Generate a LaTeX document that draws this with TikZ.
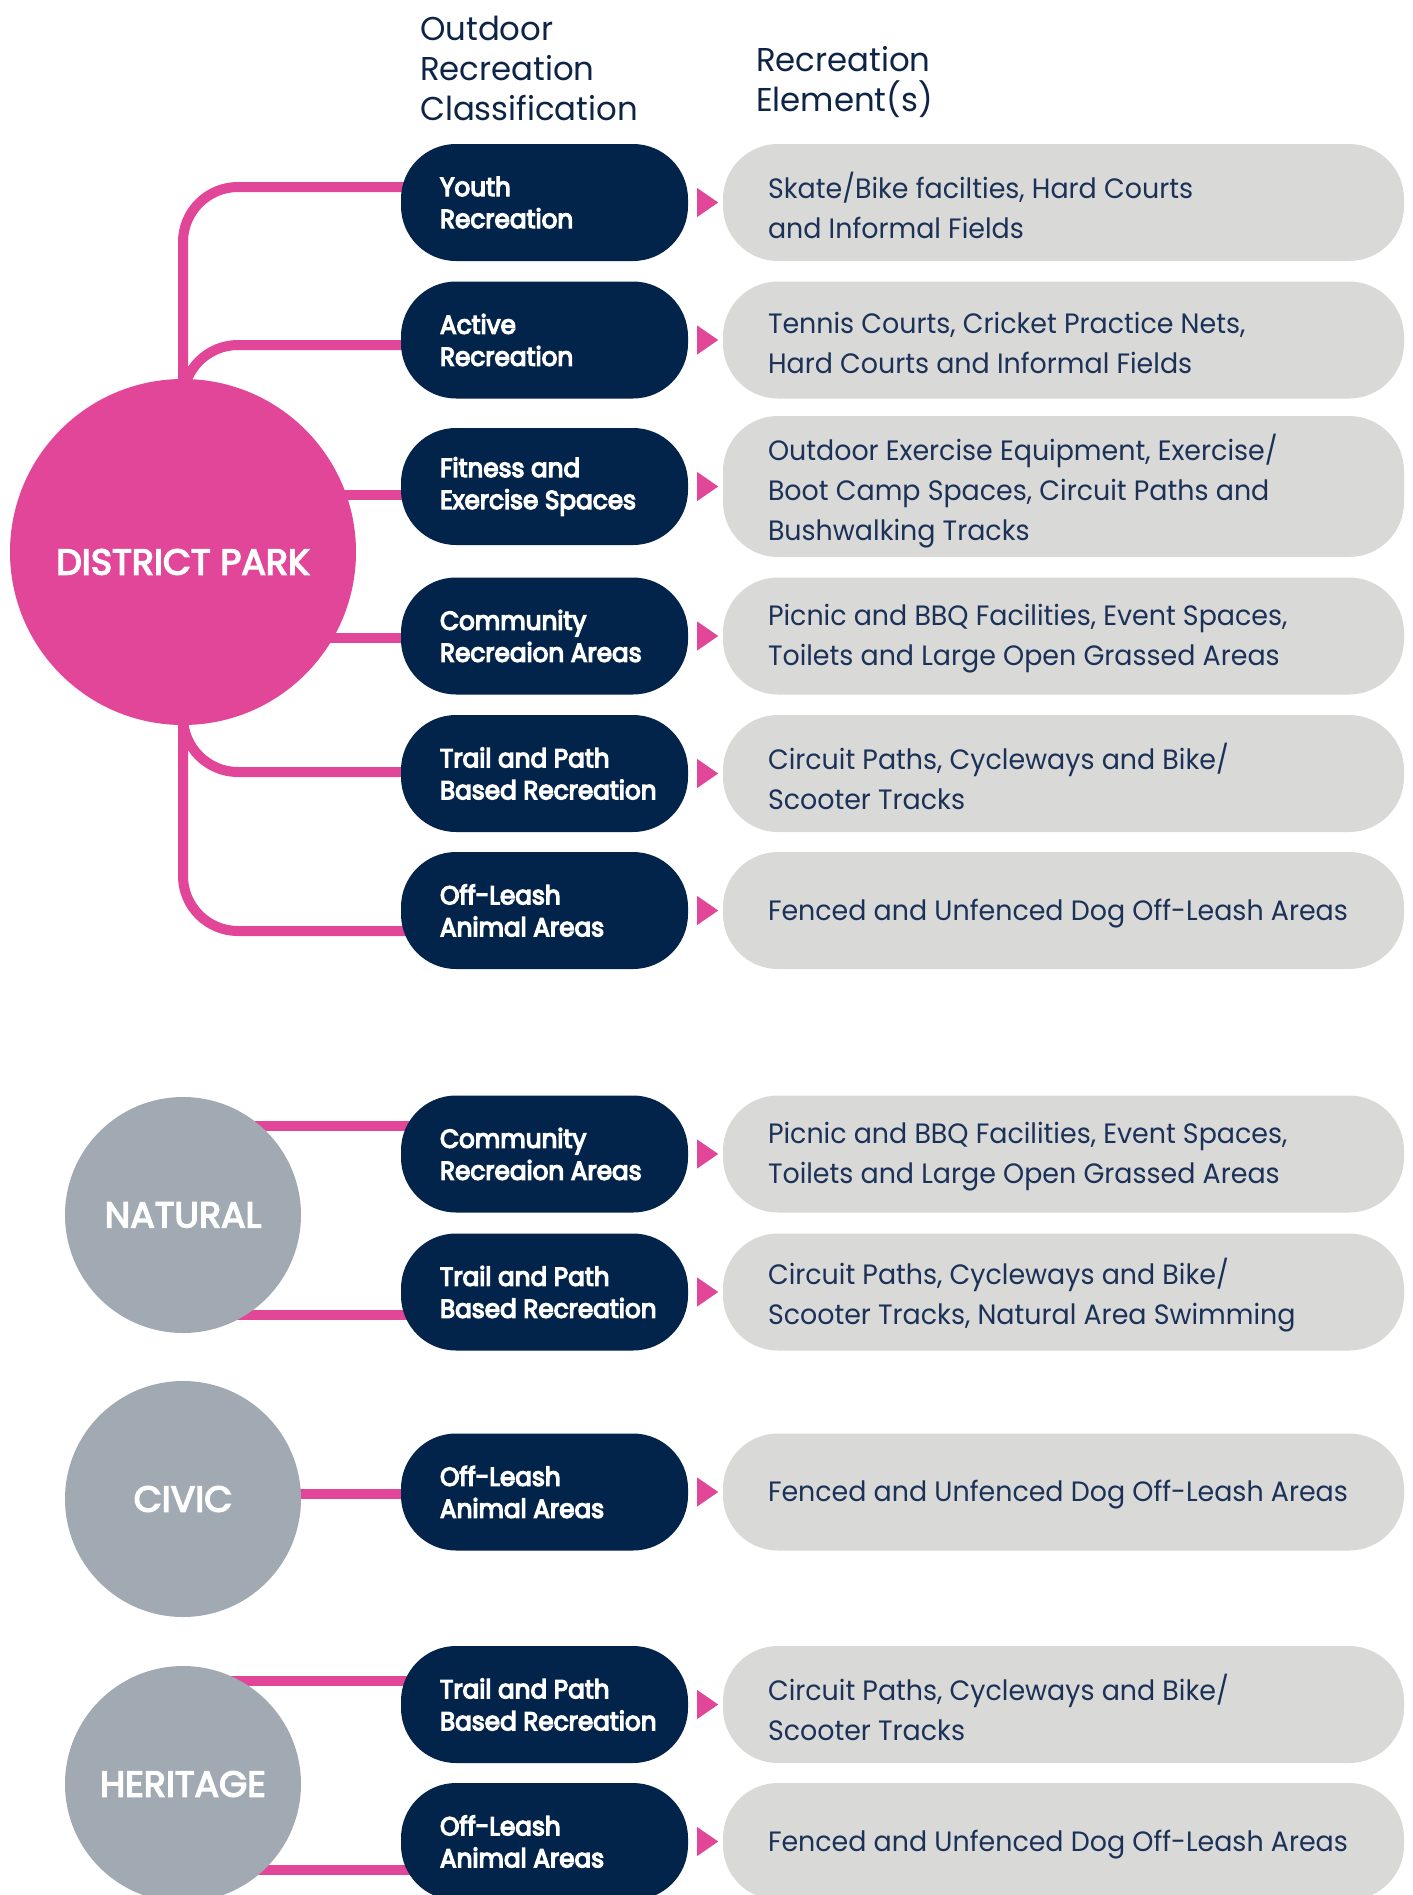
\documentclass[tikz,border=0pt]{standalone}
\usepackage{fontspec}
\setmainfont{Poppins}
\newfontfamily\grayfnt{Poppins}[FakeStretch=0.96]
\newfontfamily\headfnt{Poppins}[FakeStretch=0.98]
\newfontfamily\pillfnt{Poppins}[FakeStretch=0.95,FakeBold=5]
\newfontfamily\circfnt{Poppins}[FakeStretch=1.01,FakeBold=4]
\usetikzlibrary{calc,backgrounds}
\definecolor{pinkc}{HTML}{E24698}
\definecolor{navy}{HTML}{02234A}
\definecolor{pillgray}{HTML}{D9D9D8}
\definecolor{circgray}{HTML}{A1AAB2}
\definecolor{elemtext}{HTML}{1B3157}
\definecolor{headtext}{HTML}{0E2447}
\newcommand\outrow[6]{%
  \node[darkpill] (#1) at (544.5,#2) {};
  \node[pilltxt, anchor=west] (#1t) at ($(#1.west)+(39,0)$) {#3};
  \node[graypill, minimum height=#5pt] (#1g) at (1063.5,#2) {};
  \node[elemtxt, anchor=west] (#1gt) at ($(#1g.west)+(45,#6)$) {#4};
  \fill[pinkc] ($(#1.east)+(9,-14.5)$) -- ($(#1.east)+(30,0)$) -- ($(#1.east)+(9,14.5)$) -- cycle;
}
\begin{document}
\begin{tikzpicture}[x=1pt,y=-1pt,
  conn/.style={draw=pinkc, line width=10pt},
  darkpill/.style={fill=navy, rounded corners=55pt, minimum width=287pt, minimum height=117pt, inner sep=0pt},
  graypill/.style={fill=pillgray, rounded corners=55pt, minimum width=681pt, inner sep=0pt},
  pilltxt/.style={text=white, align=left, inner sep=0pt, font=\pillfnt\fontsize{26}{32}\selectfont},
  elemtxt/.style={text=elemtext, align=left, inner sep=0pt, font=\grayfnt\fontsize{28}{40}\selectfont},
  headtxt/.style={text=headtext, align=left, inner sep=0pt, font=\headfnt\fontsize{33}{40}\selectfont},
  circtxt/.style={text=white, inner sep=0pt, font=\circfnt\fontsize{36}{40}\selectfont},
  bigcirc/.style={circle, fill=pinkc, inner sep=0pt, minimum size=346pt},
  graycirc/.style={circle, fill=circgray, inner sep=0pt, minimum size=236pt}
]
\useasboundingbox (0,0) rectangle (1413,1895);

% headers
\node[headtxt, anchor=west] (hdr1) at (420,68) {Outdoor\\Recreation\\Classification};
\node[headtxt, anchor=west] (hdr2) at (756,82) {Recreation\\Element(s)};

% circles
\node[bigcirc] (dp) at (183,552) {};
\node[circtxt] (dptext) at ($(dp.center)+(0,10)$) {DISTRICT PARK};
\node[graycirc] (nat) at (183,1215) {};
\node[circtxt] (nattext) at (nat.center) {NATURAL};
\node[graycirc] (civ) at (183,1499) {};
\node[circtxt] (civtext) at (civ.center) {CIVIC};
\node[graycirc] (her) at (183,1784) {};
\node[circtxt] (hertext) at (her.center) {HERITAGE};

% rows
\outrow{youth}{202.5}{Youth\\Recreation}{Skate/Bike facilties, Hard Courts\\and Informal Fields}{117}{3}
\outrow{active}{340}{Active\\Recreation}{Tennis Courts, Cricket Practice Nets,\\Hard Courts and Informal Fields}{117}{3}
\outrow{fitness}{486.5}{Fitness and\\Exercise Spaces}{Outdoor Exercise Equipment, Exercise/\\Boot Camp Spaces, Circuit Paths and\\Bushwalking Tracks}{141}{5}
\outrow{commun}{636}{Community\\Recreaion Areas}{Picnic and BBQ Facilities, Event Spaces,\\Toilets and Large Open Grassed Areas}{117}{3}
\outrow{trail}{773.5}{Trail and Path\\Based Recreation}{Circuit Paths, Cycleways and Bike/\\Scooter Tracks}{117}{3}
\outrow{offl}{910.5}{Off-Leash\\Animal Areas}{Fenced and Unfenced Dog Off-Leash Areas}{117}{3}
\outrow{natcomm}{1154}{Community\\Recreaion Areas}{Picnic and BBQ Facilities, Event Spaces,\\Toilets and Large Open Grassed Areas}{117}{3}
\outrow{nattrail}{1292}{Trail and Path\\Based Recreation}{Circuit Paths, Cycleways and Bike/\\Scooter Tracks, Natural Area Swimming}{117}{3}
\outrow{civoff}{1492}{Off-Leash\\Animal Areas}{Fenced and Unfenced Dog Off-Leash Areas}{117}{3}
\outrow{hertrail}{1704.5}{Trail and Path\\Based Recreation}{Circuit Paths, Cycleways and Bike/\\Scooter Tracks}{117}{3}
\outrow{heroff}{1841.5}{Off-Leash\\Animal Areas}{Fenced and Unfenced Dog Off-Leash Areas}{117}{3}

% connector end points (hidden under the pills)
\coordinate (youthIn) at ($(youth.west)+(30,-15.5)$);
\coordinate (activeIn) at ($(active.west)+(30,5)$);
\coordinate (fitnessIn) at ($(fitness.west)+(30,8.5)$);
\coordinate (communIn) at ($(commun.west)+(30,2)$);
\coordinate (trailIn) at ($(trail.west)+(30,-1.5)$);
\coordinate (offlIn) at ($(offl.west)+(30,20.5)$);
\coordinate (natcommIn) at ($(natcomm.west)+(30,-28)$);
\coordinate (nattrailIn) at ($(nattrail.west)+(30,23)$);
\coordinate (civoffIn) at ($(civoff.west)+(30,2)$);
\coordinate (hertrailIn) at ($(hertrail.west)+(30,-23.5)$);
\coordinate (heroffIn) at ($(heroff.west)+(30,28.5)$);

\begin{scope}[on background layer]
  \fill[white] (0,0) rectangle (1413,1895);
  \draw[conn, rounded corners=55pt] (dp.center) |- (youthIn);
  \draw[conn, rounded corners=55pt] (dp.center) |- (activeIn);
  \draw[conn] (dp.center |- fitnessIn) -- (fitnessIn);
  \draw[conn] (dp.center |- communIn) -- (communIn);
  \draw[conn, rounded corners=55pt] (dp.center) |- (trailIn);
  \draw[conn, rounded corners=55pt] (dp.center) |- (offlIn);
  \draw[conn] (nat.center |- natcommIn) -- (natcommIn);
  \draw[conn] (nat.center |- nattrailIn) -- (nattrailIn);
  \draw[conn] (civ.center |- civoffIn) -- (civoffIn);
  \draw[conn] (her.center |- hertrailIn) -- (hertrailIn);
  \draw[conn] (her.center |- heroffIn) -- (heroffIn);
\end{scope}
\end{tikzpicture}
\end{document}
